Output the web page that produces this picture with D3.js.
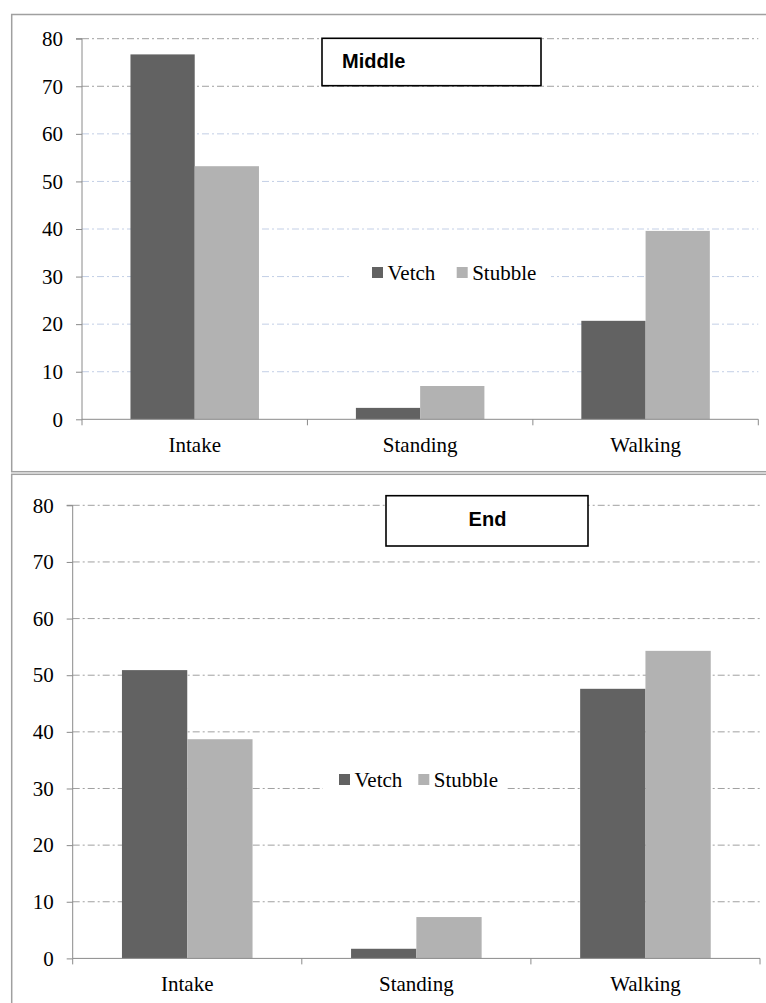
<!DOCTYPE html>
<html>
<head>
<meta charset="utf-8">
<script src="https://cdn.jsdelivr.net/npm/d3@7"></script>
<style>
  html, body { margin: 0; padding: 0; background: #fff; }
  svg { display: block; }
  .tick text { font-family: "Liberation Serif", "Times New Roman", serif; font-size: 21px; fill: #000; }
  .legend text { font-family: "Liberation Serif", "Times New Roman", serif; font-size: 21px; fill: #000; }
  .title { font-family: "Liberation Sans", Arial, sans-serif; font-size: 20px; font-weight: bold; fill: #000; }
</style>
</head>
<body>
<svg id="chart" width="766" height="1003"></svg>
<script>
// Activity categories and the two pasture treatments
const categories = ["Intake", "Standing", "Walking"];
const seriesNames = ["Vetch", "Stubble"];

// Middle of the grazing period (%)
const middleVetch = [76.7, 2.4, 20.7];
const middleStubble = [53.2, 7.0, 39.6];

// End of the grazing period (%)
const endVetch = [50.9, 1.7, 47.6];
const endStubble = [38.7, 7.3, 54.3];

const yTicks = [0, 10, 20, 30, 40, 50, 60, 70, 80];
const panelTitles = ["Middle", "End"];

const seriesColors = ["#626262", "#b2b2b2"];
const svg = d3.select("#chart");

function drawPanel(cfg) {
  const g = svg.append("g");

  // panel frame (right/bottom edges run off the page)
  g.append("rect")
    .attr("x", cfg.frame.x).attr("y", cfg.frame.y)
    .attr("width", cfg.frame.w).attr("height", cfg.frame.h)
    .attr("fill", "#fff").attr("stroke", "#a0a0a0").attr("stroke-width", 1.5);

  const x = d3.scaleBand().domain(categories).range([cfg.left, cfg.right]);
  const y = d3.scaleLinear().domain([0, 80]).range([cfg.bottom, cfg.top]);

  // dash-dot gridlines
  g.append("g").selectAll("line")
    .data(yTicks.filter(t => t > 0))
    .join("line")
    .attr("x1", cfg.left).attr("x2", cfg.right)
    .attr("y1", d => y(d)).attr("y2", d => y(d))
    .attr("stroke", d => cfg.gridColor(d))
    .attr("stroke-width", 1)
    .attr("stroke-dasharray", "7,3,2,3");

  // bars
  const bw = x.bandwidth() * 0.285;
  const series = [cfg.vetch, cfg.stubble];
  series.forEach((vals, si) => {
    g.append("g").selectAll("rect")
      .data(categories.map((c, i) => ({ c, v: vals[i] })))
      .join("rect")
      .attr("x", d => x(d.c) + x.bandwidth() / 2 - bw + si * bw)
      .attr("y", d => y(d.v))
      .attr("width", bw)
      .attr("height", d => y(0) - y(d.v))
      .attr("fill", seriesColors[si]);
  });

  // y axis
  const ya = g.append("g")
    .attr("transform", `translate(${cfg.left},0)`)
    .call(d3.axisLeft(y).tickValues(yTicks).tickSize(6).tickPadding(13).tickFormat(d3.format("d")));
  ya.select(".domain").attr("stroke", "#8a8a8a").attr("d", `M-6,${y(80)}H0V${y(0)}`);
  ya.selectAll(".tick line").attr("stroke", "#8a8a8a");

  // x axis: category labels centred in each band, ticks on the band edges
  const xa = g.append("g")
    .attr("transform", `translate(0,${cfg.bottom})`)
    .call(d3.axisBottom(x).tickSize(0).tickPadding(18));
  xa.select(".domain").attr("stroke", "#8a8a8a").attr("d", `M${cfg.left},0H${cfg.right}`);
  const edges = categories.map(c => x(c)).concat([x.range()[1]]);
  xa.append("g").selectAll("line")
    .data(edges)
    .join("line")
    .attr("x1", d => d).attr("x2", d => d)
    .attr("y1", 0).attr("y2", 6)
    .attr("stroke", "#8a8a8a");

  // legend with its white backing
  const lg = g.append("g").attr("class", "legend");
  lg.append("rect")
    .attr("x", cfg.legendBox[0]).attr("y", cfg.legendBox[1])
    .attr("width", cfg.legendBox[2]).attr("height", cfg.legendBox[3])
    .attr("fill", "#fff");
  seriesNames.forEach((name, i) => {
    const lx = cfg.legendX + i * cfg.legendStep;
    lg.append("rect")
      .attr("x", lx).attr("y", cfg.legendY)
      .attr("width", 11).attr("height", 11)
      .attr("fill", seriesColors[i]);
    lg.append("text")
      .attr("x", lx + 15.5).attr("y", cfg.legendY + 13)
      .text(name);
  });

  // title box
  g.append("rect")
    .attr("x", cfg.titleBox[0]).attr("y", cfg.titleBox[1])
    .attr("width", cfg.titleBox[2]).attr("height", cfg.titleBox[3])
    .attr("fill", "#fff").attr("stroke", "#000").attr("stroke-width", 1.6);
  g.append("text")
    .attr("class", "title")
    .attr("x", cfg.titleX).attr("y", cfg.titleY)
    .attr("text-anchor", cfg.titleAnchor)
    .text(cfg.title);
}

drawPanel({
  frame: { x: 11.7, y: 14.5, w: 770, h: 457.2 },
  left: 82, right: 758.3, top: 38.7, bottom: 419.3,
  vetch: middleVetch, stubble: middleStubble,
  gridColor: d => d >= 70 ? "#a0a0a0" : "#c3cfe6",
  legendBox: [352, 258, 199, 34],
  legendX: 372, legendY: 267, legendStep: 84.7,
  titleBox: [322, 38.3, 219, 47.4],
  titleX: 342, titleY: 68, titleAnchor: "start",
  title: panelTitles[0]
});

drawPanel({
  frame: { x: 11.7, y: 474.3, w: 770, h: 540 },
  left: 72.7, right: 760, top: 505.3, bottom: 958.4,
  vetch: endVetch, stubble: endStubble,
  gridColor: () => "#a0a0a0",
  legendBox: [323, 765, 184, 34],
  legendX: 339, legendY: 774, legendStep: 79.3,
  titleBox: [386, 495.7, 202, 50.3],
  titleX: 487.5, titleY: 526, titleAnchor: "middle",
  title: panelTitles[1]
});
</script>
</body>
</html>
